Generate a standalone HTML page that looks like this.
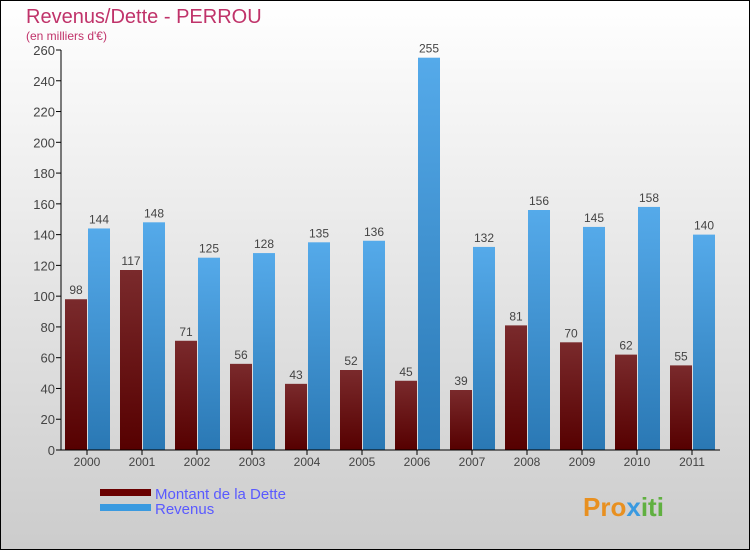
<!DOCTYPE html>
<html><head><meta charset="utf-8"><style>
body{margin:0;width:750px;height:550px;overflow:hidden;font-family:"Liberation Sans",sans-serif}
</style></head><body>
<svg id="c" width="750" height="550" xmlns="http://www.w3.org/2000/svg">
<defs>
<linearGradient id="bg" x1="0" y1="0" x2="0" y2="1"><stop offset="0" stop-color="#ffffff"/><stop offset="1" stop-color="#cccccc"/></linearGradient>
<linearGradient id="gd" x1="0" y1="0" x2="0" y2="1"><stop offset="0" stop-color="#7a2a2c"/><stop offset="1" stop-color="#560000"/></linearGradient>
<linearGradient id="gr" x1="0" y1="0" x2="0" y2="1"><stop offset="0" stop-color="#55aaea"/><stop offset="1" stop-color="#2a78b4"/></linearGradient>
</defs>
<rect x="0.5" y="0.5" width="749" height="549" fill="url(#bg)" stroke="#000"/>
<text x="26" y="23" font-size="20" fill="#c0336a">Revenus/Dette - PERROU</text>
<text x="26" y="40" font-size="12" fill="#c0336a">(en milliers d'€)</text>
<g id="plot"></g>
<rect x="100" y="489" width="51" height="7" fill="#6a0000"/>
<rect x="100" y="504" width="51" height="7" fill="#3a9ae0"/>
<text x="155" y="499" font-size="15" fill="#5a5aff">Montant de la Dette</text>
<text x="155" y="514" font-size="15" fill="#5a5aff">Revenus</text>
<text x="583" y="516" font-size="26" font-weight="bold" fill="#e89020">Pro<tspan fill="#3a9ae0">x</tspan><tspan fill="#60b040">iti</tspan></text>
</svg>
<script>
const years=["2000","2001","2002","2003","2004","2005","2006","2007","2008","2009","2010","2011"];
const dette=[98,117,71,56,43,52,45,39,81,70,62,55];
const revenus=[144,148,125,128,135,136,255,132,156,145,158,140];
const ticks=[0,20,40,60,80,100,120,140,160,180,200,220,240,260];
const NS="http://www.w3.org/2000/svg";
const g=document.getElementById('plot');
const y=v=>450-v*400/260;
const gx=i=>87+i*55;
function el(t,a,txt){const e=document.createElementNS(NS,t);for(const k in a)e.setAttribute(k,a[k]);if(txt!==undefined)e.textContent=txt;g.appendChild(e);return e;}
ticks.forEach(t=>{
 const l=el('line',{x1:56,x2:61,y1:y(t),y2:y(t),stroke:'#000'});
 
 
 const tx=el('text',{x:55,y:y(t)+5,'font-size':13,'text-anchor':'end',fill:'#444'},t);
 
 
});
years.forEach((yr,i)=>{
 const c=gx(i);
 const b1=el('rect',{x:c-22,y:y(dette[i]),width:22,height:450-y(dette[i]),fill:'url(#gd)'});
 
 
 const b2=el('rect',{x:c+1,y:y(revenus[i]),width:22,height:450-y(revenus[i]),fill:'url(#gr)'});
 
 
 const v1=el('text',{x:c-11,y:y(dette[i])-5,'font-size':12,'text-anchor':'middle',fill:'#444'},dette[i]);
 
 
 const v2=el('text',{x:c+12,y:y(revenus[i])-5,'font-size':12,'text-anchor':'middle',fill:'#444'},revenus[i]);
 
 
 const tk=el('line',{x1:c,x2:c,y1:450,y2:455,stroke:'#000'});
 
 
 const xl=el('text',{x:c,y:466,'font-size':12,'text-anchor':'middle',fill:'#444'},yr);
 
 
});
const ya=el('line',{x1:61,x2:61,y1:y(260),y2:450,stroke:'#000'});


const xa=el('line',{x1:61,x2:720,y1:450,y2:450,stroke:'#000'});


</script>
</body></html>
